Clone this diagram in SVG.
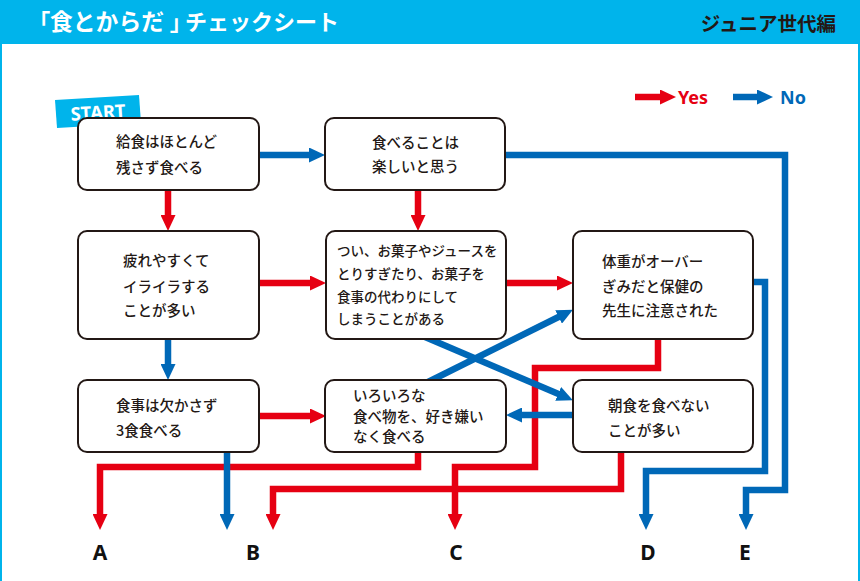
<svg xmlns="http://www.w3.org/2000/svg" width="860" height="581" viewBox="0 0 860 581">
<style>
.box{fill:#fff;stroke:#231815;stroke-width:2}
.t{font-family:"Noto Sans CJK JP","Noto Sans",sans-serif;font-size:14.5px;font-weight:500;fill:#231815}
.t2{font-family:"Noto Sans CJK JP","Noto Sans",sans-serif;font-size:13.5px;font-weight:500;fill:#231815}
.r{fill:none;stroke:#e60012;stroke-width:6.5}
.b{fill:none;stroke:#0068b7;stroke-width:6.5}
.lbl{font-family:"Noto Sans","Noto Sans CJK JP",sans-serif;font-size:21px;font-weight:700;fill:#111;text-anchor:middle}
.ttl{font-family:"Noto Sans CJK JP",sans-serif;font-weight:700;fill:#fff}
.palt{font-feature-settings:"palt"}
</style>
<defs>
<marker id="mr" markerUnits="userSpaceOnUse" markerWidth="16" markerHeight="15" refX="1" refY="7.5" orient="auto"><path d="M0,0 L16,7.5 L0,15 z" fill="#e60012"/></marker>
<marker id="mb" markerUnits="userSpaceOnUse" markerWidth="16" markerHeight="15" refX="1" refY="7.5" orient="auto"><path d="M0,0 L16,7.5 L0,15 z" fill="#0068b7"/></marker>
</defs>
<rect x="0" y="0" width="860" height="581" fill="#fff"/>
<path d="M1,0 V581 M859,0 V581" stroke="#00b4eb" stroke-width="2"/>
<rect x="0" y="0" width="860" height="44" fill="#00b4eb"/>
<g id="title">
<text class="ttl palt" x="39" y="30" font-size="22">「</text>
<text class="ttl" x="50" y="30" font-size="22.8">食とからだ</text>
<text class="ttl palt" x="170" y="30" font-size="22">」</text>
<text class="ttl" x="185" y="30" font-size="22">チェックシート</text>
</g>
<text x="836" y="31" text-anchor="end" font-family="'Noto Sans CJK JP',sans-serif" font-size="19.5" font-weight="700" fill="#231815">ジュニア世代編</text>
<g id="legend">
<path d="M635,97 H661" class="r" stroke-width="6" marker-end="url(#mr)"/>
<text x="678" y="104" font-family="'Noto Sans','Noto Sans CJK JP',sans-serif" font-size="18" font-weight="700" fill="#e60012">Yes</text>
<path d="M733,97 H758" class="b" stroke-width="6" marker-end="url(#mb)"/>
<text x="780" y="104" font-family="'Noto Sans','Noto Sans CJK JP',sans-serif" font-size="18" font-weight="700" fill="#0068b7">No</text>
</g>
<g id="connectors">
<path class="b" d="M259,155 H310" marker-end="url(#mb)"/>
<path class="b" d="M505,155 H785 V490 H746 V515" marker-end="url(#mb)"/>
<path class="r" d="M168,190 V216" marker-end="url(#mr)"/>
<path class="r" d="M418,190 V216" marker-end="url(#mr)"/>
<path class="r" d="M259,283 H311" marker-end="url(#mr)"/>
<path class="r" d="M506,283 H558" marker-end="url(#mr)"/>
<path class="b" d="M753,282 H765 V471 H646 V515" marker-end="url(#mb)"/>
<path class="r" d="M658,339 V368 H535 V467 H455 V515" marker-end="url(#mr)"/>
<path class="b" d="M168,339 V365" marker-end="url(#mb)"/>
<path class="r" d="M259,416 H311" marker-end="url(#mr)"/>
<path class="r" d="M418,452 V467 H100 V515" marker-end="url(#mr)"/>
<path class="r" d="M621,452 V489 H273 V515" marker-end="url(#mr)"/>
<path class="b" d="M227,452 V515" marker-end="url(#mb)"/>
<path class="b" d="M573,415 H521" marker-end="url(#mb)"/>
<path class="b" d="M425,337 L559.1,394.3" marker-end="url(#mb)"/>
<path class="b" d="M428,382 L559.5,316.5" marker-end="url(#mb)"/>
</g>
<g id="start">
<polygon points="55,100 139,95 141,123 57,128" fill="#00b4eb"/>
<text x="98" y="119" text-anchor="middle" transform="rotate(-3.5 98 112)" font-family="'Noto Sans','Noto Sans CJK JP',sans-serif" font-size="18.5" font-weight="700" fill="#fff">START</text>
</g>
<g id="n1"><rect class="box" x="78" y="118" width="181" height="72" rx="9"/>
<text class="t" x="116" y="146.5">給食はほとんど</text><text class="t" x="116" y="172.5">残さず食べる</text></g>
<g id="n2"><rect class="box" x="325" y="118" width="180" height="72" rx="9"/>
<text class="t" x="372" y="147.5">食べることは</text><text class="t" x="372" y="172">楽しいと思う</text></g>
<g id="n3"><rect class="box" x="78" y="231" width="181" height="108" rx="9"/>
<text class="t" x="123" y="266">疲れやすくて</text><text class="t" x="123" y="292">イライラする</text><text class="t" x="123" y="316">ことが多い</text></g>
<g id="n4"><rect class="box" x="326" y="231" width="180" height="108" rx="9"/>
<text class="t2" x="337" y="256">つい、お菓子やジュースを</text><text class="t2" x="337" y="279">とりすぎたり、お菓子を</text><text class="t2" x="337" y="302">食事の代わりにして</text><text class="t2" x="337" y="324">しまうことがある</text></g>
<g id="n5"><rect class="box" x="573" y="231" width="180" height="108" rx="9"/>
<text class="t" x="602" y="267">体重がオーバー</text><text class="t" x="602" y="292">ぎみだと保健の</text><text class="t" x="602" y="316">先生に注意された</text></g>
<g id="n6"><rect class="box" x="78" y="380" width="181" height="72" rx="9"/>
<text class="t" x="116" y="410.5">食事は欠かさず</text><text class="t" x="116" y="435.5">3食食べる</text></g>
<g id="n7"><rect class="box" x="325" y="380" width="181" height="72" rx="9"/>
<text class="t" x="353" y="401">いろいろな</text><text class="t" x="353" y="422">食べ物を、好き嫌い</text><text class="t" x="353" y="442">なく食べる</text></g>
<g id="n8"><rect class="box" x="573" y="380" width="180" height="72" rx="9"/>
<text class="t" x="608" y="410.5">朝食を食べない</text><text class="t" x="608" y="435.5">ことが多い</text></g>
<g id="ends">
<text class="lbl" x="100" y="560">A</text>
<text class="lbl" x="253" y="560">B</text>
<text class="lbl" x="456" y="560">C</text>
<text class="lbl" x="648" y="560">D</text>
<text class="lbl" x="745" y="560">E</text>
</g>
</svg>
